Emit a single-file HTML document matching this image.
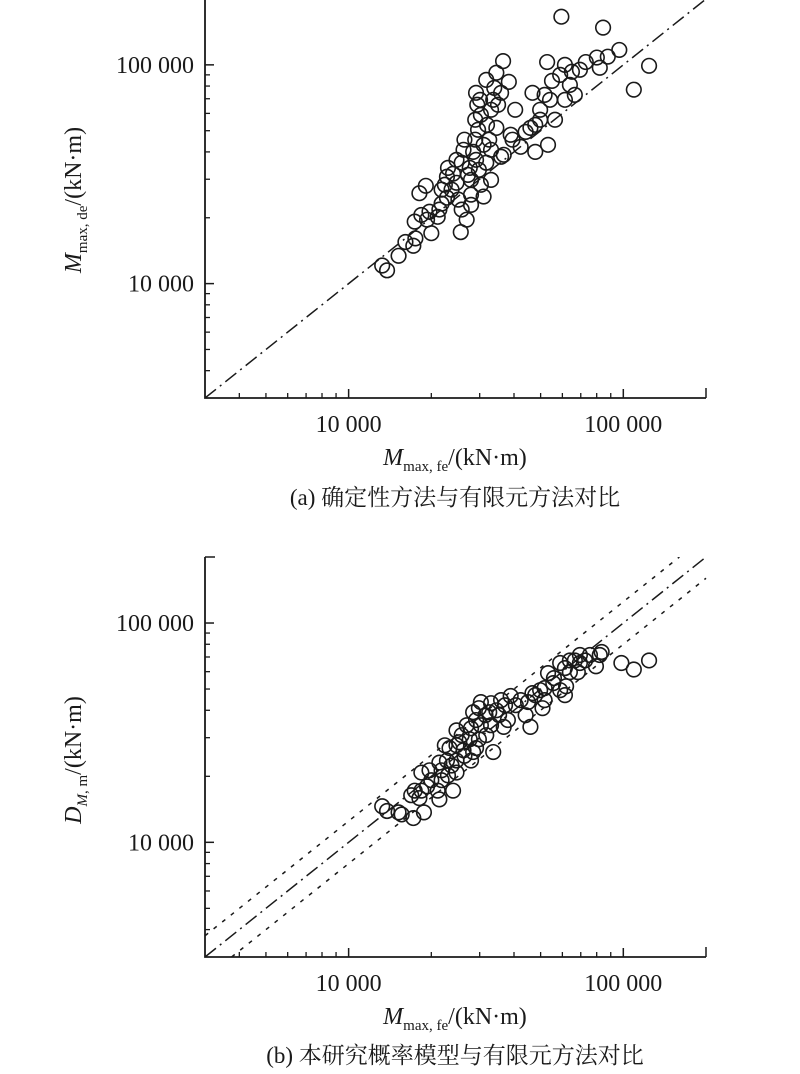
<!DOCTYPE html>
<html><head><meta charset="utf-8">
<style>
html,body{margin:0;padding:0;background:#fff;}
svg{display:block;}
text{font-family:"Liberation Serif","Noto Serif CJK SC","Noto Sans CJK SC",serif;fill:#1a1a1a;}
</style></head>
<body>
<svg id="chart" width="800" height="1074" viewBox="0 0 800 1074" xmlns="http://www.w3.org/2000/svg">
<g id="pa"></g>
<g id="pb"></g>
<text x="455" y="505" font-size="23" text-anchor="middle">(a) 确定性方法与有限元方法对比</text>
<text x="455" y="1063" font-size="23" text-anchor="middle">(b) 本研究概率模型与有限元方法对比</text>
</svg>
<script>
// Chart (a) data: deterministic vs FE (kN·m)
const aFe = [13250,13800,15200,16100,17200,17400,17500,18100,19100,18400,19300,19700,21100,20000,21400,21800,22800,21800,22800,23000,22400,23700,24000,24700,25100,25600,25800,24700,25800,26200,26400,27200,27600,27900,27900,28400,28900,29600,28900,29400,30100,30300,29100,29800,30300,31700,31000,31900,32500,33000,33000,31700,33900,34500,35900,36500,38300,40400,35900,31000,33000,27900,26900,34500,33600,35000,29100,36700,38900,39500,42300,44100,45900,47800,49800,53200,47800,49800,51700,54100,56400,55000,58900,61300,63900,61300,66600,65000,69500,73000,80100,82100,87800,96700,109200,124100,59500,84400,52800,46700];
const aDe = [12100,11500,13400,15500,14900,19200,16100,25900,28000,20600,19600,21300,20200,17000,21800,23200,24700,26900,30800,33800,28300,26900,31800,28900,24200,17200,21800,36800,35700,40900,45500,31400,33800,29800,25500,40000,45500,50500,56100,65700,69200,59100,36800,33100,28300,35700,43100,53200,45500,40900,62300,85400,78500,92000,74500,104000,83600,62300,38000,25000,29800,22900,19600,51500,69200,65700,74500,38800,47900,45500,42200,49400,51500,53200,56100,43100,40000,62300,72900,69200,56100,84500,90000,100000,81000,69200,72900,93000,95000,103000,108000,97000,109000,117000,77000,99000,166000,148000,103000,74500];
// Chart (b) data: probabilistic model vs FE (kN·m)
const bFe = [13250,13800,15600,17200,17400,18800,18100,18400,19300,20000,21100,21800,21800,22800,23700,24000,22400,23300,24700,25300,25800,26900,27900,27600,26200,28400,29100,29800,30300,31500,32500,33000,34500,35900,37100,38900,29800,24700,24700,26400,28400,33600,33000,36700,45900,42300,45000,46700,47800,49800,51700,55600,53200,55900,58900,61300,50800,61900,58900,61300,63900,66600,69500,72600,75600,82100,83400,69500,63900,98400,109200,124100,18400,21400,23000,30300,31700,27900,38000,24700,21400,16900,15200,19700,29100,35300,40600,44100,51700,68300,79500];
const bDm = [14600,13900,13400,12900,17200,13700,15900,20800,18000,19200,17200,21300,19200,23600,22400,17200,27700,26900,32400,28600,30800,34200,33100,29500,26300,39200,36100,40900,34200,38000,39200,43100,40000,44500,42200,46500,29500,23600,20800,24800,25800,25800,34200,33600,33600,44500,43600,47900,46900,49400,50500,53200,59100,56100,49400,46900,40900,51500,65700,62300,67500,67500,65700,67500,71500,71500,73800,71500,59700,65700,61400,67500,17200,23100,20200,43600,30800,23600,36100,27700,15700,16400,13700,21300,26900,38000,42200,38000,44500,59700,63500];
const xTickVals = [10000,100000];
const xTickLabels = ["10 000","100 000"];
const yTickVals = [10000,100000];
const yTickLabels = ["10 000","100 000"];
const minorVals = [4000,5000,6000,7000,8000,9000,20000,30000,40000,50000,60000,70000,80000,90000,200000];
const bandFactor = 1.25;
const domainMin = 3000, domainMax = 200000;

const NS = "http://www.w3.org/2000/svg";
function mk(parent, tag, attrs){
  const e = document.createElementNS(NS, tag);
  for (const k in attrs) e.setAttribute(k, attrs[k]);
  parent.appendChild(e);
  return e;
}
function L(v){return Math.log10(v);}

function drawChart(g, cfg){
  const left=205, right=706, top=cfg.top, bottom=cfg.bottom;
  const xs = v => left + (L(v)-L(domainMin))/(L(domainMax)-L(domainMin))*(right-left);
  const ys = v => bottom - (L(v)-L(domainMin))/(L(domainMax)-L(domainMin))*(bottom-top);
  let ax = mk(g,'path',{d:`M${left},${top} V${bottom} H${right}`,fill:'none',stroke:'#1a1a1a','stroke-width':1.8});
  
  
  let tt = mk(g,'line',{x1:left,y1:top,x2:left+10,y2:top,stroke:'#1a1a1a','stroke-width':1.5});
  
  
  let rt = mk(g,'line',{x1:right,y1:bottom,x2:right,y2:bottom-10,stroke:'#1a1a1a','stroke-width':1.5});
  
  
  minorVals.forEach(v=>{
    if (v>=domainMax) return;
    let t1 = mk(g,'line',{x1:xs(v),y1:bottom,x2:xs(v),y2:bottom-5,stroke:'#1a1a1a','stroke-width':1.3});
    
    
    let t2 = mk(g,'line',{x1:left,y1:ys(v),x2:left+5,y2:ys(v),stroke:'#1a1a1a','stroke-width':1.3});
    
    
  });
  xTickVals.forEach((v,i)=>{
    let t = mk(g,'line',{x1:xs(v),y1:bottom,x2:xs(v),y2:bottom-9,stroke:'#1a1a1a','stroke-width':1.5});
    
    
    let lb = mk(g,'text',{x:xs(v),y:bottom+34,'font-size':24,'text-anchor':'middle'});
    lb.textContent = xTickLabels[i];
    
    
  });
  yTickVals.forEach((v,i)=>{
    let t = mk(g,'line',{x1:left,y1:ys(v),x2:left+9,y2:ys(v),stroke:'#1a1a1a','stroke-width':1.5});
    
    
    let lb = mk(g,'text',{x:194,y:ys(v)+8,'font-size':24,'text-anchor':'end'});
    lb.textContent = yTickLabels[i];
    
    
  });
  const cid = 'clip'+cfg.id;
  const cp = mk(g,'clipPath',{id:cid});
  mk(cp,'rect',{x:left,y:top,width:right-left+20,height:bottom-top});
  let ref = mk(g,'line',{x1:xs(domainMin),y1:ys(domainMin),x2:xs(domainMax),y2:ys(domainMax),stroke:'#1a1a1a','stroke-width':1.5,'stroke-dasharray':'14 5 2 5','clip-path':`url(#${cid})`});
  
  
  if (cfg.band){
    [bandFactor, 1/bandFactor].forEach((f,i)=>{
      const x0 = Math.max(domainMin, domainMin/f), x1 = Math.min(domainMax, domainMax/f);
      let bl = mk(g,'line',{x1:xs(x0),y1:ys(x0*f),x2:xs(x1),y2:ys(x1*f),stroke:'#1a1a1a','stroke-width':1.5,'stroke-dasharray':'4 7','clip-path':`url(#${cid})`});
      
      
    });
  }
  cfg.xv.forEach((v,i)=>{
    let c = mk(g,'circle',{cx:xs(v),cy:ys(cfg.yv[i]),r:7.3,fill:'none',stroke:'#1a1a1a','stroke-width':1.6});
    
    
  });
  let xt = mk(g,'text',{x:455,y:bottom+67,'font-size':24,'text-anchor':'middle'});
  xt.innerHTML = '<tspan font-style="italic">M</tspan><tspan font-size="15" dy="6">max, fe</tspan><tspan dy="-6">/(kN·m)</tspan>';
  
  
  const cy = cfg.titleY;
  let yt = mk(g,'text',{x:0,y:0,'font-size':24,'text-anchor':'middle',transform:`translate(81,${cy}) rotate(-90)`});
  yt.innerHTML = cfg.yTitle;
  
  
}

drawChart(document.getElementById('pa'),{id:'a',top:-1,bottom:398,xv:aFe,yv:aDe,band:false,titleY:200,
  yTitle:'<tspan font-style="italic">M</tspan><tspan font-size="15" dy="6">max, de</tspan><tspan dy="-6">/(kN·m)</tspan>'});
drawChart(document.getElementById('pb'),{id:'b',top:557,bottom:957,xv:bFe,yv:bDm,band:true,titleY:760,
  yTitle:'<tspan font-style="italic">D</tspan><tspan font-size="15" dy="6" font-style="italic">M</tspan><tspan font-size="15">, m</tspan><tspan dy="-6">/(kN·m)</tspan>'});
</script>
</body></html>
